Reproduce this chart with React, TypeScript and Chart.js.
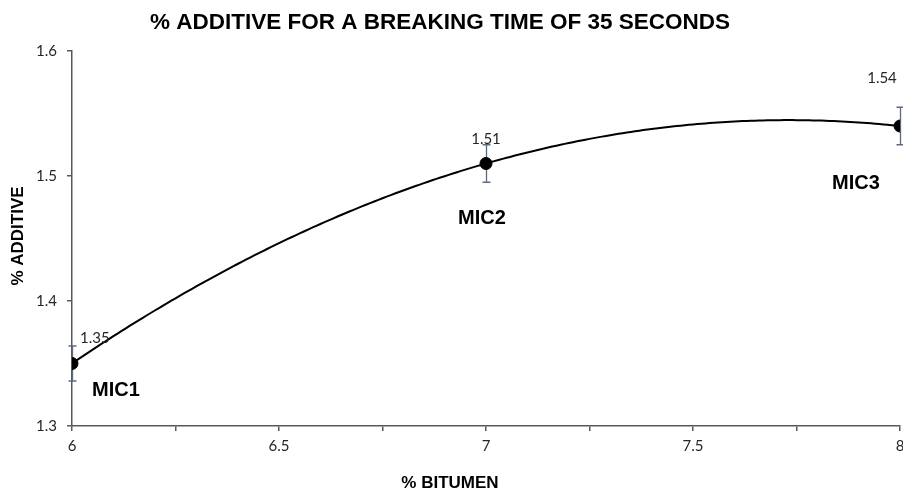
import React, { useEffect, useRef } from 'react';
import { Chart, registerables } from 'chart.js';

Chart.register(...registerables);

const categories = ['MIC1', 'MIC2', 'MIC3'];
const bitumen = [6, 7, 8];
const additive = [1.35, 1.51, 1.54];
const errorBars = [0.014, 0.015, 0.015];
const valueLabels = ['1.35', '1.51', '1.54'];

const chartTitle = '% ADDITIVE FOR A BREAKING TIME OF 35 SECONDS';
const xTitle = '% BITUMEN';
const yTitle = '% ADDITIVE';

const AXIS_COLOR = '#595959';
const ERR_COLOR = '#5b6a82';
const TICK_FONT = 'Lato, "Open Sans", sans-serif';
const BOLD_FONT = '"Liberation Sans", Arial, sans-serif';

const VIEW_W = 903;
const VIEW_H = 492;
const CANVAS_W = 920;

// least-squares polynomial (order 2) trendline from the data
function fitQuadratic(xs: number[], ys: number[]) {
  const n = xs.length;
  let s0 = n, s1 = 0, s2 = 0, s3 = 0, s4 = 0, t0 = 0, t1 = 0, t2 = 0;
  for (let i = 0; i < n; i++) {
    const x = xs[i], y = ys[i];
    s1 += x; s2 += x * x; s3 += x * x * x; s4 += x * x * x * x;
    t0 += y; t1 += x * y; t2 += x * x * y;
  }
  const M = [
    [s0, s1, s2, t0],
    [s1, s2, s3, t1],
    [s2, s3, s4, t2],
  ];
  for (let c = 0; c < 3; c++) {
    let p = c;
    for (let r = c + 1; r < 3; r++) if (Math.abs(M[r][c]) > Math.abs(M[p][c])) p = r;
    [M[c], M[p]] = [M[p], M[c]];
    for (let r = 0; r < 3; r++) {
      if (r === c) continue;
      const f = M[r][c] / M[c][c];
      for (let k = c; k < 4; k++) M[r][k] -= f * M[c][k];
    }
  }
  return [M[0][3] / M[0][0], M[1][3] / M[1][1], M[2][3] / M[2][2]];
}

const decorPlugin = {
  id: 'decor',
  beforeDatasetsDraw(chart: any) {
    const { ctx, scales } = chart;
    const xs = scales.x, ys = scales.y;
    // trendline
    const [a, b, c] = fitQuadratic(bitumen, additive);
    const x0 = Math.min(...bitumen), x1 = Math.max(...bitumen);
    ctx.save();
    ctx.beginPath();
    const steps = 200;
    for (let i = 0; i <= steps; i++) {
      const x = x0 + ((x1 - x0) * i) / steps;
      const y = a + b * x + c * x * x;
      const px = xs.getPixelForValue(x), py = ys.getPixelForValue(y);
      if (i === 0) ctx.moveTo(px, py); else ctx.lineTo(px, py);
    }
    ctx.strokeStyle = '#000';
    ctx.lineWidth = 2;
    ctx.stroke();
    // error bars
    ctx.strokeStyle = ERR_COLOR;
    ctx.lineWidth = 1.3;
    for (let i = 0; i < bitumen.length; i++) {
      const px = Math.round(xs.getPixelForValue(bitumen[i])) + 0.5;
      const pt = ys.getPixelForValue(additive[i] + errorBars[i]);
      const pb = ys.getPixelForValue(additive[i] - errorBars[i]);
      ctx.beginPath();
      ctx.moveTo(px, pt); ctx.lineTo(px, pb);
      ctx.moveTo(px - 4, pt); ctx.lineTo(px + 4, pt);
      ctx.moveTo(px - 4, pb); ctx.lineTo(px + 4, pb);
      ctx.stroke();
    }
    ctx.restore();
  },
  afterDraw(chart: any) {
    const { ctx, scales } = chart;
    const xs = scales.x, ys = scales.y;
    ctx.save();
    ctx.fillStyle = '#000';
    // title
    ctx.font = `bold 22.5px ${BOLD_FONT}`;
    ctx.textAlign = 'center';
    ctx.textBaseline = 'middle';
    ctx.fillText(chartTitle, 440, 23);
    // x axis title
    ctx.font = `bold 17px ${BOLD_FONT}`;
    ctx.fillText(xTitle, 450, 483);
    // y axis title
    ctx.save();
    ctx.translate(18, 236);
    ctx.rotate(-Math.PI / 2);
    ctx.fillText(yTitle, 0, 0);
    ctx.restore();
    // value labels and category labels
    const valueOffsets = [[8, -25, 'left'], [0, -24, 'center'], [-18, -48, 'center']];
    const catOffsets = [[20, 27, 'left'], [-28, 55, 'left'], [-68, 57, 'left']];
    for (let i = 0; i < bitumen.length; i++) {
      const px = xs.getPixelForValue(bitumen[i]);
      const py = ys.getPixelForValue(additive[i]);
      ctx.font = `15px ${TICK_FONT}`;
      ctx.fillStyle = '#262626';
      const vo: any = valueOffsets[i];
      ctx.textAlign = vo[2];
      ctx.fillText(valueLabels[i], px + vo[0], py + vo[1]);
      ctx.font = `bold 20px ${BOLD_FONT}`;
      ctx.fillStyle = '#000';
      const co: any = catOffsets[i];
      ctx.textAlign = co[2];
      ctx.fillText(categories[i], px + co[0], py + co[1]);
    }
    ctx.restore();
  },
};

export default function App() {
  const ref = useRef<HTMLCanvasElement>(null);
  useEffect(() => {
    document.body.style.margin = '0';
    const chart = new Chart(ref.current as HTMLCanvasElement, {
      type: 'scatter',
      data: {
        datasets: [
          {
            label: '% ADDITIVE',
            data: bitumen.map((x, i) => ({ x, y: additive[i] })),
            backgroundColor: '#000',
            borderColor: '#000',
            pointRadius: 6,
            pointHoverRadius: 6,
            showLine: false,
          },
        ],
      },
      options: {
        animation: false,
        responsive: false,
        maintainAspectRatio: false,
        layout: { padding: { top: 51, right: CANVAS_W - 900, left: 0, bottom: 0 } },
        plugins: {
          legend: { display: false },
          title: { display: false },
          tooltip: { enabled: false },
        },
        scales: {
          x: {
            type: 'linear',
            min: 6,
            max: 8,
            ticks: {
              stepSize: 0.25,
              autoSkip: false,
              maxRotation: 0,
              padding: 6,
              color: '#262626',
              font: { family: TICK_FONT, size: 15 },
              callback: (v: any) => {
                const n = Number(v);
                return Math.abs(n * 2 - Math.round(n * 2)) < 1e-6 ? String(n) : '';
              },
            },
            grid: { drawOnChartArea: false, drawTicks: true, tickLength: 5, color: AXIS_COLOR, lineWidth: 1.5 },
            border: { color: AXIS_COLOR, width: 1.5 },
            afterFit: (s: any) => { s.height = 66; },
          },
          y: {
            type: 'linear',
            min: 1.3,
            max: 1.6,
            ticks: {
              stepSize: 0.1,
              padding: 10,
              color: '#262626',
              font: { family: TICK_FONT, size: 15 },
              callback: (v: any) => Number(v).toFixed(1),
            },
            grid: { drawOnChartArea: false, drawTicks: true, tickLength: 5, color: AXIS_COLOR, lineWidth: 1.5 },
            border: { color: AXIS_COLOR, width: 1.5 },
            afterFit: (s: any) => { s.width = 72; },
          },
        },
      },
      plugins: [decorPlugin],
    });
    return () => chart.destroy();
  }, []);
  return (
    <div style={{ width: VIEW_W, height: VIEW_H, background: '#fff', overflow: 'hidden' }}>
      <canvas ref={ref} width={CANVAS_W} height={VIEW_H} style={{ display: 'block', width: CANVAS_W, height: VIEW_H }} />
    </div>
  );
}
